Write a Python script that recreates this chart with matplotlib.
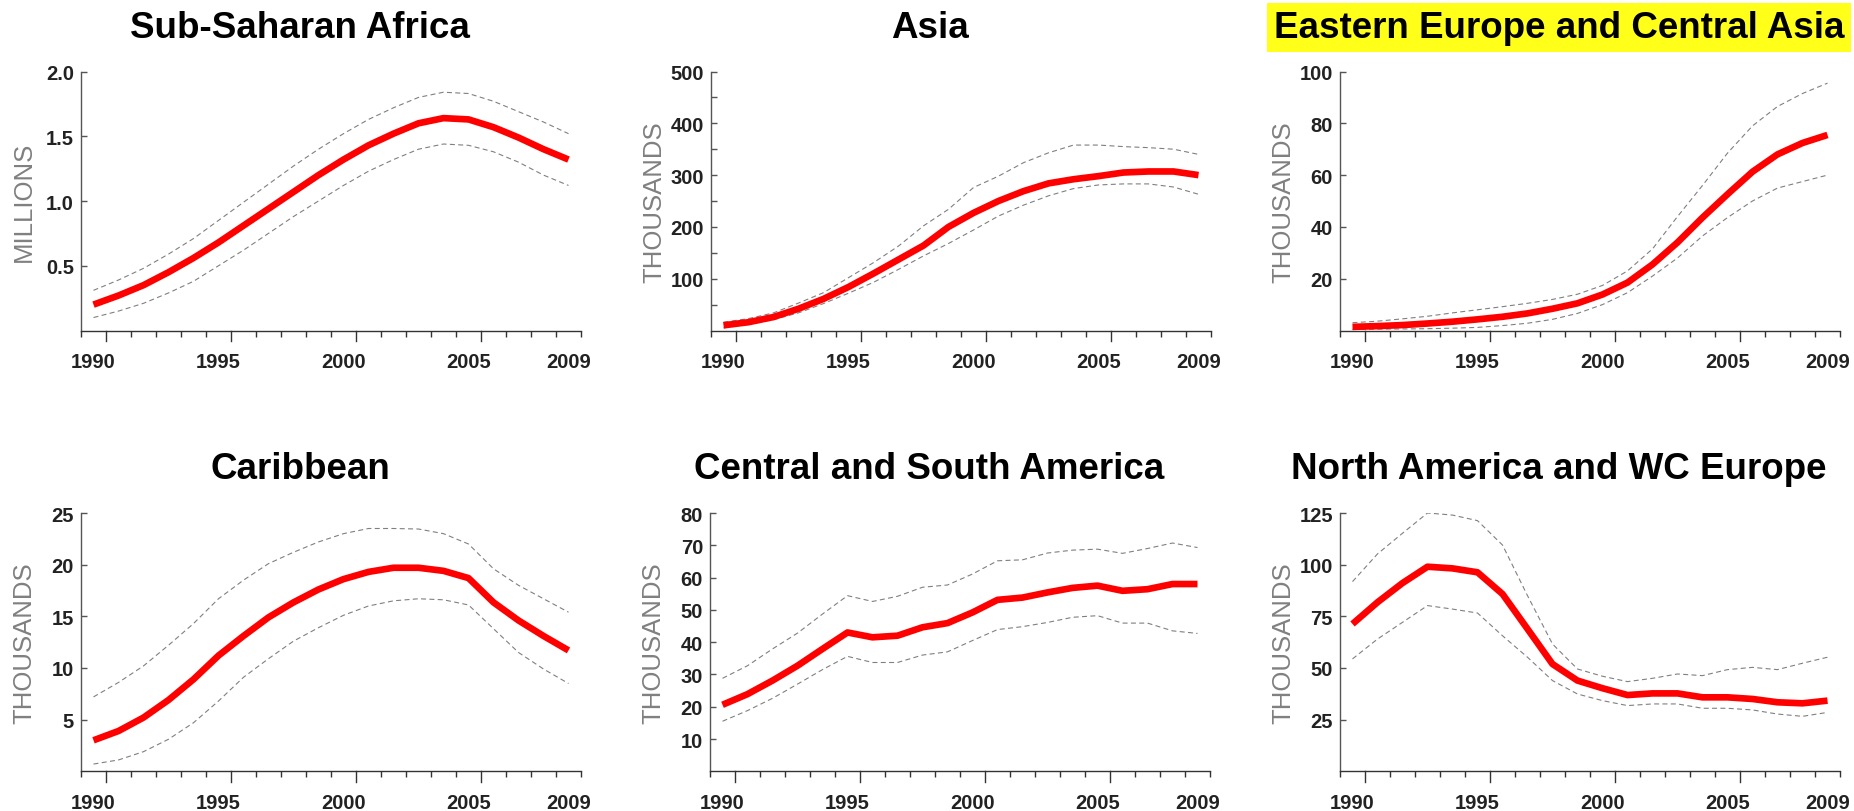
import numpy as np
import matplotlib
matplotlib.use('Agg')
import matplotlib.pyplot as plt
from matplotlib.ticker import FixedLocator, FixedFormatter

plt.rcParams['font.family'] = ['Liberation Sans', 'DejaVu Sans']

# Years on the category axis
years = list(range(1990, 2010))
year_labels = ['1990', '1995', '2000', '2005', '2009']

# Sub-Saharan Africa (millions)
ssa_mid = [0.20, 0.27, 0.35, 0.45, 0.56, 0.68, 0.81, 0.94, 1.07, 1.20,
           1.32, 1.43, 1.52, 1.60, 1.64, 1.63, 1.57, 1.49, 1.40, 1.32]
ssa_hi = [0.31, 0.39, 0.48, 0.59, 0.71, 0.85, 0.99, 1.13, 1.27, 1.40,
          1.52, 1.63, 1.72, 1.80, 1.84, 1.83, 1.77, 1.69, 1.61, 1.52]
ssa_lo = [0.10, 0.15, 0.21, 0.29, 0.38, 0.50, 0.62, 0.75, 0.88, 1.00,
          1.12, 1.23, 1.32, 1.40, 1.44, 1.43, 1.38, 1.30, 1.20, 1.12]

# Asia (thousands)
asia_mid = [10, 16, 26, 42, 61, 84, 110, 137, 164, 200,
            227, 250, 269, 284, 292, 298, 305, 307, 307, 300]
asia_hi = [16, 23, 34, 53, 73, 102, 131, 163, 202, 234,
           276, 298, 324, 343, 358, 358, 355, 353, 350, 340]
asia_lo = [5, 12, 21, 34, 52, 72, 93, 118, 144, 168,
           194, 221, 242, 260, 274, 281, 283, 283, 277, 263]

# Eastern Europe and Central Asia (thousands)
eeca_mid = [1.4, 1.7, 2.1, 2.7, 3.4, 4.3, 5.3, 6.6, 8.4, 10.5,
            13.9, 18.5, 25.5, 34.0, 43.6, 52.6, 61.3, 68.0, 72.4, 75.5]
eeca_hi = [3.0, 3.6, 4.5, 5.5, 6.8, 8.0, 9.2, 10.5, 12.0, 14.0,
           17.4, 23.0, 31.5, 44.0, 56.0, 68.5, 79.0, 86.5, 91.5, 95.5]
eeca_lo = [0.4, 0.5, 0.6, 0.7, 0.9, 1.2, 1.9, 2.8, 4.3, 6.6,
           10.0, 14.6, 21.0, 28.0, 36.5, 43.6, 50.0, 55.0, 57.5, 60.0]

# Caribbean (thousands)
car_mid = [3.0, 3.9, 5.2, 6.9, 8.9, 11.2, 13.1, 14.9, 16.35, 17.6,
           18.6, 19.3, 19.7, 19.7, 19.4, 18.7, 16.35, 14.6, 13.1, 11.7]
car_hi = [7.2, 8.6, 10.2, 12.2, 14.3, 16.7, 18.5, 20.1, 21.2, 22.2,
          23.0, 23.5, 23.5, 23.45, 23.0, 22.0, 19.6, 18.0, 16.7, 15.4]
car_lo = [0.7, 1.1, 1.9, 3.1, 4.7, 6.8, 9.1, 10.9, 12.6, 13.9,
          15.1, 16.0, 16.5, 16.7, 16.6, 16.1, 13.8, 11.5, 9.9, 8.5]

# Central and South America (thousands)
csa_mid = [20.6, 23.9, 28.1, 32.7, 37.9, 43.0, 41.5, 42.0, 44.6, 45.9,
           49.2, 53.1, 53.8, 55.4, 56.8, 57.5, 55.9, 56.4, 58.0, 58.0]
csa_hi = [28.8, 32.7, 37.9, 42.8, 48.7, 54.4, 52.6, 54.2, 57.0, 57.7,
          61.1, 65.2, 65.5, 67.6, 68.5, 68.8, 67.5, 69.0, 70.7, 69.3]
csa_lo = [15.5, 18.8, 22.6, 27.0, 31.5, 35.6, 33.7, 33.7, 36.0, 37.0,
          40.5, 43.9, 44.8, 46.1, 47.7, 48.2, 45.9, 45.9, 43.5, 42.7]

# North America and WC Europe (thousands)
nawc_mid = [71.3, 81.8, 91.1, 99.0, 98.2, 96.3, 85.8, 68.9, 51.9, 43.9,
            40.2, 36.9, 37.7, 37.7, 35.8, 35.8, 35.0, 33.4, 32.9, 34.2]
nawc_hi = [91.8, 105.2, 115.2, 125.0, 124.0, 121.3, 109.5, 85.0, 61.6, 49.5,
           46.0, 43.4, 45.0, 47.1, 46.3, 49.2, 50.3, 49.2, 52.3, 55.2]
nawc_lo = [54.4, 64.0, 72.1, 80.2, 78.5, 76.6, 65.6, 55.2, 43.9, 37.4,
           34.2, 31.8, 32.6, 32.6, 30.5, 30.5, 29.7, 27.7, 26.6, 28.5]

panels = [
    ('Sub-Saharan Africa', 'MILLIONS', ssa_mid, ssa_hi, ssa_lo, 2.0, 0.5, None, '{:.1f}'),
    ('Asia', 'THOUSANDS', asia_mid, asia_hi, asia_lo, 500, 100, 50, '{:.0f}'),
    ('Eastern Europe and Central Asia', 'THOUSANDS', eeca_mid, eeca_hi, eeca_lo, 100, 20, None, '{:.0f}'),
    ('Caribbean', 'THOUSANDS', car_mid, car_hi, car_lo, 25, 5, None, '{:.0f}'),
    ('Central and South America', 'THOUSANDS', csa_mid, csa_hi, csa_lo, 80, 10, None, '{:.0f}'),
    ('North America and WC Europe', 'THOUSANDS', nawc_mid, nawc_hi, nawc_lo, 125, 25, None, '{:.0f}'),
]

W, H = 1854, 812
# pixel frame of each plot area: left, top, bottom
frames = [(81, 72.5, 331.5), (711, 72.5, 331.5), (1340, 72.5, 331.5),
          (81, 514, 772.3), (710, 514, 772.3), (1340, 514, 772.3)]
AX_W = 500

fig = plt.figure(figsize=(W / 100, H / 100), dpi=100)
fig.patch.set_facecolor('white')

n = len(years)
x = np.arange(n)
label_idx = [years.index(int(y)) for y in year_labels]

for i, (title, unit, mid, hi, lo, ymax, ystep, yminor, fmt) in enumerate(panels):
    left, top, bot = frames[i]
    ax = fig.add_axes([left / W, (H - bot) / H, AX_W / W, (bot - top) / H])

    ax.plot(x, hi, color='#808080', lw=0.8, dashes=(4.5, 3))
    ax.plot(x, lo, color='#808080', lw=0.8, dashes=(4.5, 3))
    ax.plot(x, mid, color='#ff0000', lw=4.8, solid_joinstyle='round',
            solid_capstyle='butt')

    ax.set_xlim(-0.5, n - 0.5)
    ax.set_ylim(0, ymax)

    # x axis: labels at category centres, tick marks at category edges
    edges = np.arange(n + 1) - 0.5
    long_edges = [e for e in edges if (e - 0.5) % 5 == 0 and 0 < e < n - 1]
    short_edges = [e for e in edges if e not in long_edges]
    ax.xaxis.set_major_locator(FixedLocator(label_idx))
    ax.xaxis.set_major_formatter(FixedFormatter(year_labels))
    ax.xaxis.set_minor_locator(FixedLocator(short_edges))
    ax.tick_params(axis='x', which='major', length=0, pad=15.5,
                   labelsize=14.5, labelcolor='#222222')
    ax.tick_params(axis='x', which='minor', length=4.5, width=1,
                   direction='out', color='#333333')
    for e in long_edges:
        ax.plot([e, e], [0, -0.04], transform=ax.get_xaxis_transform(),
                color='#333333', lw=1, clip_on=False)

    # y axis
    yt = np.arange(ystep, ymax + ystep / 2, ystep)
    ax.set_yticks(yt)
    ax.set_yticklabels([fmt.format(v) for v in yt])
    if yminor:
        ax.set_yticks(np.arange(yminor, ymax, ystep), minor=True)
    ax.tick_params(axis='y', which='both', direction='in', length=4.5,
                   width=1, color='#555555', pad=5,
                   labelsize=14.5, labelcolor='#222222')
    for lab in ax.get_xticklabels() + ax.get_yticklabels():
        lab.set_fontweight('bold')

    ax.set_ylabel(unit, color='#808080', fontsize=18.5)
    ax.yaxis.set_label_coords(-0.09, 0.5)

    for side in ['top', 'right']:
        ax.spines[side].set_visible(False)
    ax.spines['left'].set_color('#555555')
    ax.spines['bottom'].set_color('#333333')
    ax.spines['left'].set_linewidth(1)
    ax.spines['bottom'].set_linewidth(1)

    # panel title, centred a little to the left of the plot area
    ty = 1 - (38 if i < 3 else 479) / H
    tx = (left + AX_W / 2 - 31) / W
    kw = {}
    if title.startswith('Eastern'):
        kw['bbox'] = dict(boxstyle='square,pad=0.18', fc='#ffff1a', ec='none')
    fig.text(tx, ty, title, ha='center', va='baseline', fontsize=26.5,
             fontweight='bold', color='black', **kw)

fig.savefig('out.png', dpi=100)
